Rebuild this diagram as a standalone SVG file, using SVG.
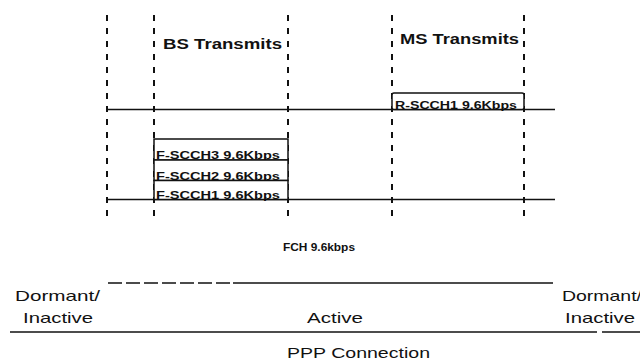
<svg xmlns="http://www.w3.org/2000/svg" width="640" height="362" viewBox="0 0 640 362">
<style>
.dash{stroke:#111;stroke-width:2;stroke-dasharray:6 7;fill:none}
.ln{stroke:#111;stroke-width:1.6;fill:none}
.box{stroke:#111;stroke-width:1.5;fill:#fff}
.lbl{font-family:"Liberation Sans",Arial,sans-serif;font-weight:bold;fill:#111}
.ch{font-family:"Liberation Sans",Arial,sans-serif;font-weight:bold;font-size:11.5px;fill:#111}
.st{font-family:"Liberation Sans",Arial,sans-serif;font-size:14.5px;fill:#111}
</style>
<rect width="640" height="362" fill="#fff"/>
<g id="connectors">
  <line class="dash" x1="107" y1="15" x2="107" y2="221"/>
  <line class="dash" x1="154" y1="15" x2="154" y2="221"/>
  <line class="dash" x1="288" y1="15" x2="288" y2="221"/>
  <line class="dash" x1="392" y1="15" x2="392" y2="221"/>
  <line class="dash" x1="524" y1="15" x2="524" y2="221"/>
  <line class="ln" x1="107" y1="109.5" x2="555" y2="109.5"/>
  <line class="ln" x1="107" y1="199.5" x2="555" y2="199.5"/>
  <line class="ln" x1="108" y1="283" x2="233" y2="283" stroke-dasharray="14 4"/>
  <line class="ln" x1="233" y1="283" x2="553" y2="283"/>
  <line class="ln" x1="10" y1="332" x2="597" y2="332" stroke-width="2"/>
  <line class="ln" x1="602" y1="332" x2="640" y2="332" stroke-width="2"/>
</g>
<g id="bs-transmits">
  <text class="lbl" x="163" y="49" font-size="14.5" textLength="119" lengthAdjust="spacingAndGlyphs">BS Transmits</text>
</g>
<g id="ms-transmits">
  <text class="lbl" x="400" y="44" font-size="14.5" textLength="119" lengthAdjust="spacingAndGlyphs">MS Transmits</text>
</g>
<g id="r-scch1">
  <rect class="box" x="392" y="93" width="132" height="16.5" rx="2"/>
  <text class="ch" x="395" y="108.5" textLength="122" lengthAdjust="spacingAndGlyphs">R-SCCH1 9.6Kbps</text>
</g>
<g id="f-scch3">
  <rect class="box" x="154" y="139" width="134" height="21"/>
  <text class="ch" x="156" y="159" textLength="124" lengthAdjust="spacingAndGlyphs">F-SCCH3 9.6Kbps</text>
</g>
<g id="f-scch2">
  <rect class="box" x="154" y="160" width="134" height="20.5"/>
  <text class="ch" x="156" y="179.5" textLength="124" lengthAdjust="spacingAndGlyphs">F-SCCH2 9.6Kbps</text>
</g>
<g id="f-scch1">
  <rect class="box" x="154" y="180.5" width="134" height="19"/>
  <text class="ch" x="156" y="198.5" textLength="124" lengthAdjust="spacingAndGlyphs">F-SCCH1 9.6Kbps</text>
</g>
<g id="fch">
  <text class="ch" x="283" y="251" textLength="72" lengthAdjust="spacingAndGlyphs">FCH 9.6kbps</text>
</g>
<g id="dormant-left">
  <text class="st" x="15" y="301" textLength="85" lengthAdjust="spacingAndGlyphs">Dormant/</text>
  <text class="st" x="23" y="323" textLength="70" lengthAdjust="spacingAndGlyphs">Inactive</text>
</g>
<g id="active">
  <text class="st" x="307" y="323" textLength="56" lengthAdjust="spacingAndGlyphs">Active</text>
</g>
<g id="dormant-right">
  <text class="st" x="562" y="301" textLength="80" lengthAdjust="spacingAndGlyphs">Dormant/</text>
  <text class="st" x="565" y="323" textLength="70" lengthAdjust="spacingAndGlyphs">Inactive</text>
</g>
<g id="ppp">
  <text class="st" x="287" y="358" textLength="143" lengthAdjust="spacingAndGlyphs">PPP Connection</text>
</g>
</svg>
